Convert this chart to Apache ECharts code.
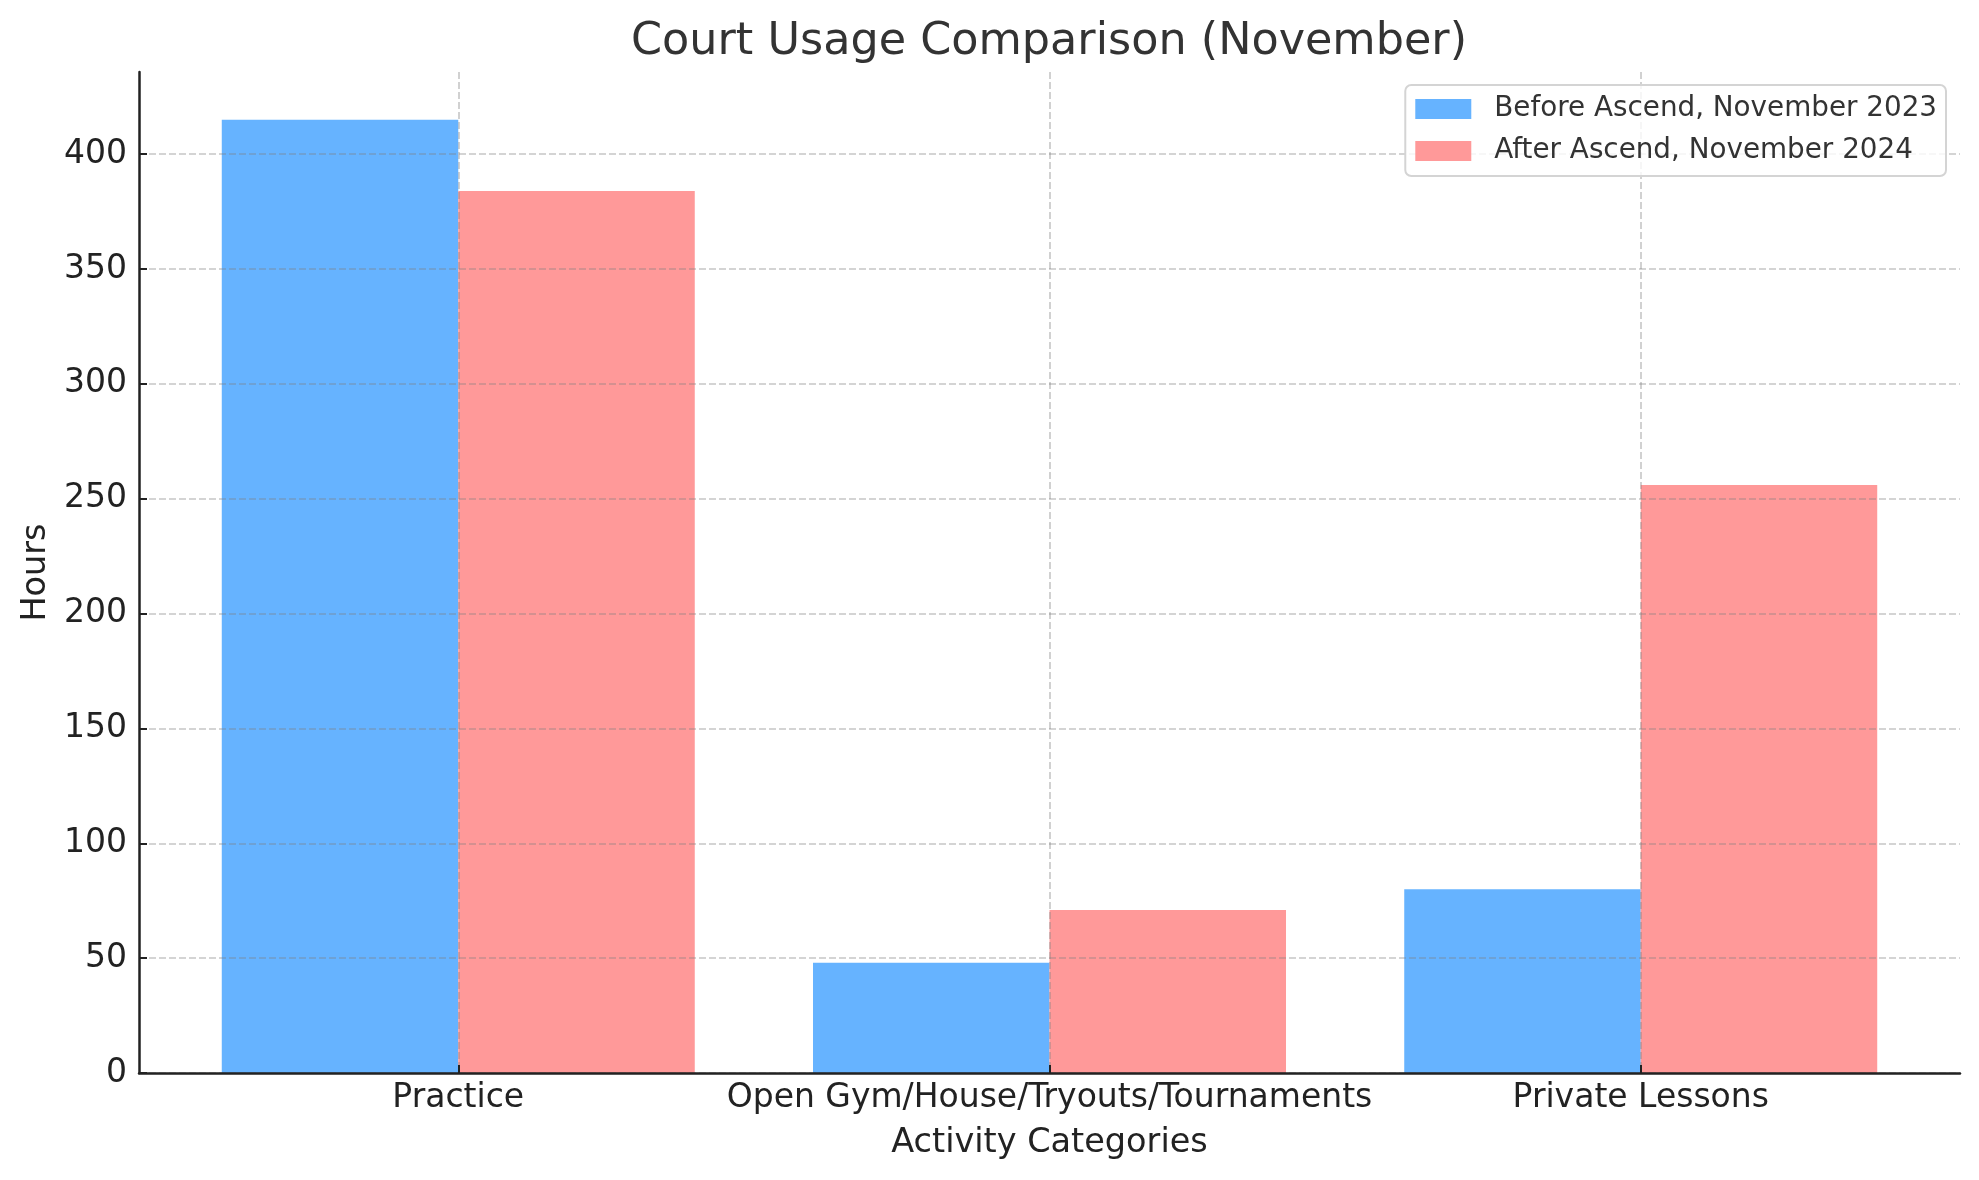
<!DOCTYPE html>
<html>
<head>
<meta charset="utf-8">
<script src="https://cdn.jsdelivr.net/npm/echarts@6/dist/echarts.min.js"></script>
<style>
  html, body { margin: 0; padding: 0; background: #fff; }
  #main { width: 1979px; height: 1180px; }
</style>
</head>
<body>
<div id="main"></div>
<script>
// 数据
const categories = ['Practice', 'Open Gym/House/Tryouts/Tournaments', 'Private Lessons']
const seriesNames = ['Before Ascend, November 2023', 'After Ascend, November 2024']
const before2023 = [415, 48, 80]
const after2024 = [384, 71, 256]
const yTicks = [0, 50, 100, 150, 200, 250, 300, 350, 400]
const xTicks = [0, 1, 2]

const barWidth = 0.4 // 柱宽 (数据单位)
const font = 'DejaVu Sans'

const myChart = echarts.init(document.getElementById('main'))

// 用坐标轴换算画矩形
function renderBar(params, api) {
  const x = api.value(0)
  const y = api.value(1)
  const p0 = api.coord([x - barWidth / 2, y])
  const p1 = api.coord([x + barWidth / 2, 0])
  return {
    type: 'rect',
    shape: { x: p0[0], y: p0[1], width: p1[0] - p0[0], height: p1[1] - p0[1] },
    style: api.style()
  }
}

function makeSeries(name, values, offset, color) {
  return {
    name: name,
    type: 'custom',
    renderItem: renderBar,
    encode: { x: 0, y: 1 },
    itemStyle: { color: color },
    data: values.map((v, i) => [i + offset, v])
  }
}

const gridLine = {
  show: true,
  lineStyle: { color: 'rgba(128,128,128,0.45)', width: 1.6, type: [7, 3] }
}

const option = {
  animation: false,
  backgroundColor: '#fff',
  title: {
    text: 'Court Usage Comparison (November)',
    left: 1044,
    textAlign: 'center',
    top: 15,
    textStyle: { fontFamily: font, fontSize: 44.5, fontWeight: 'normal', color: '#333' }
  },
  legend: {
    orient: 'vertical',
    right: 33,
    top: 85,
    icon: 'rect',
    itemWidth: 56,
    itemHeight: 20,
    itemGap: 14,
    padding: [10, 9, 11, 10],
    backgroundColor: 'rgba(255,255,255,0.8)',
    borderColor: '#d4d4d4',
    borderWidth: 2,
    borderRadius: 6,
    textStyle: { fontFamily: font, fontSize: 27.8, color: '#333', padding: [0, 0, 0, 18] },
    data: seriesNames
  },
  grid: { left: 139, right: 19, top: 72, bottom: 107, containLabel: false },
  xAxis: {
    type: 'value',
    min: -0.54,
    max: 2.54,
    z: 3,
    name: 'Activity Categories',
    nameLocation: 'middle',
    nameGap: 53,
    nameTextStyle: { fontFamily: font, fontSize: 33.5, color: '#222' },
    axisLine: { show: true, onZero: false, lineStyle: { color: '#222', width: 2.5 } },
    axisTick: { show: true, inside: true, length: 8, customValues: xTicks, lineStyle: { color: '#222', width: 2 } },
    axisLabel: {
      customValues: xTicks,
      margin: 9,
      fontFamily: font, fontSize: 33, color: '#222',
      formatter: v => categories[Math.round(v)]
    },
    splitLine: gridLine
  },
  yAxis: {
    type: 'value',
    min: 0,
    max: 435.75,
    z: 3,
    name: 'Hours',
    nameLocation: 'middle',
    nameGap: 83,
    nameTextStyle: { fontFamily: font, fontSize: 33.5, color: '#222' },
    axisLine: { show: true, onZero: false, lineStyle: { color: '#222', width: 2.5 } },
    axisTick: { show: true, inside: true, length: 8, customValues: yTicks, lineStyle: { color: '#222', width: 2 } },
    axisLabel: { customValues: yTicks, margin: 12, fontFamily: font, fontSize: 33, color: '#222' },
    splitLine: gridLine
  },
  series: [
    makeSeries(seriesNames[0], before2023, -barWidth / 2, '#66b3ff'),
    makeSeries(seriesNames[1], after2024, barWidth / 2, '#ff9999')
  ]
}

myChart.setOption(option)
</script>
</body>
</html>
